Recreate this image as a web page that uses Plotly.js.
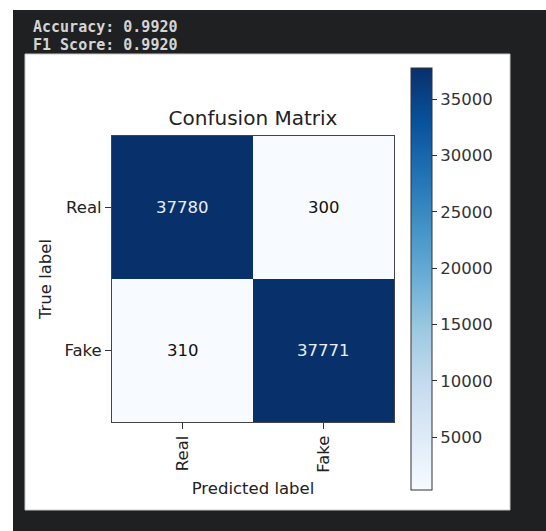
<!DOCTYPE html>
<html>
<head>
<meta charset="utf-8">
<script src="https://cdn.plot.ly/plotly-3.0.1.min.js"></script>
<style>html,body{margin:0;padding:0;background:#fff;}#chart{width:546px;height:531px;}</style>
</head>
<body>
<div id="chart"></div>
<script>
const predictedLabels = ['Real', 'Fake'];
const trueLabels = ['Real', 'Fake'];
const counts = [
  [37780, 300],
  [310, 37771]
];
const colorbarTicks = [5000, 10000, 15000, 20000, 25000, 30000, 35000];
const metricLines = ['Accuracy: 0.9920', 'F1 Score: 0.9920'];

const blues = [
  [0, '#f7fbff'], [0.125, '#deebf7'], [0.25, '#c6dbef'], [0.375, '#9ecae1'],
  [0.5, '#6baed6'], [0.625, '#4292c6'], [0.75, '#2171b5'], [0.875, '#08519c'], [1, '#08306b']
];

const flat = counts.flat();
const zmin = Math.min(...flat), zmax = Math.max(...flat);
const thresh = zmax / 2;

const W = 546, H = 531;
const L = 112, R = 152, T = 136, B = 109;
const pw = W - L - R, ph = H - T - B;
const px = v => (v - L) / pw;
const py = v => (H - B - v) / ph;

const font = 'DejaVu Sans, sans-serif';
const annotations = [];
counts.forEach((row, i) => row.forEach((v, j) => {
  annotations.push({
    x: predictedLabels[j], y: trueLabels[i], xref: 'x', yref: 'y',
    text: String(v), showarrow: false,
    font: {family: font, size: 16.5, color: v > thresh ? '#e8eef6' : '#111111'}
  });
}));
metricLines.forEach((t, k) => {
  annotations.push({
    x: px(31), y: py(27 + k * 18), xref: 'paper', yref: 'paper',
    xanchor: 'left', yanchor: 'middle', text: '<b>' + t + '</b>', showarrow: false,
    font: {family: 'DejaVu Sans Mono, monospace', size: 15, color: '#d4d4d4'}
  });
});

const shapes = [
  {type: 'rect', xref: 'paper', yref: 'paper', layer: 'below',
   x0: px(13), x1: px(560), y0: py(10), y1: py(545),
   fillcolor: '#1f2022', line: {width: 0}},
  {type: 'rect', xref: 'paper', yref: 'paper', layer: 'below',
   x0: px(25), x1: px(510), y0: py(54), y1: py(510),
   fillcolor: '#ffffff', line: {width: 1, color: '#c8c8c8'}}
];

const trace = {
  type: 'heatmap',
  x: predictedLabels, y: trueLabels, z: counts,
  colorscale: blues, zmin: zmin, zmax: zmax,
  hoverinfo: 'skip',
  colorbar: {
    x: px(411), xanchor: 'left', xref: 'paper',
    y: 0.5, yanchor: 'middle', yref: 'paper',
    thickness: 21, thicknessmode: 'pixels',
    len: 422, lenmode: 'pixels',
    outlinewidth: 1, outlinecolor: '#333',
    tickvals: colorbarTicks, tickformat: 'd', tickprefix: '\u00a0',
    ticks: 'outside', ticklen: 5, tickcolor: '#333',
    tickfont: {family: font, size: 16.5, color: '#333'},
    xpad: 0, ypad: 0
  }
};

const layout = {
  width: W, height: H,
  margin: {l: L, r: R, t: T, b: B},
  paper_bgcolor: '#ffffff', plot_bgcolor: '#ffffff',
  title: {text: 'Confusion Matrix', x: 0.5, xref: 'paper', xanchor: 'center',
          y: 1 - 118 / H, yref: 'container', yanchor: 'middle',
          font: {family: font, size: 20, color: '#222'}},
  xaxis: {
    type: 'category', tickangle: -90, ticks: 'outside', ticklen: 6, tickcolor: '#333',
    tickfont: {family: font, size: 16.5, color: '#222'},
    showline: true, mirror: true, linecolor: '#444', linewidth: 1,
    showgrid: false, zeroline: false, automargin: false,
    title: {text: 'Predicted label', standoff: 10, font: {family: font, size: 16.5, color: '#222'}}
  },
  yaxis: {
    type: 'category', autorange: 'reversed', ticks: 'outside', ticklen: 6, tickcolor: '#333',
    tickfont: {family: font, size: 16.5, color: '#222'},
    showline: true, mirror: true, linecolor: '#444', linewidth: 1,
    showgrid: false, zeroline: false, automargin: false,
    title: {text: 'True label', standoff: 8, font: {family: font, size: 16.5, color: '#222'}}
  },
  annotations: annotations,
  shapes: shapes
};

Plotly.newPlot('chart', [trace], layout, {displayModeBar: false, staticPlot: true});
</script>
</body>
</html>
